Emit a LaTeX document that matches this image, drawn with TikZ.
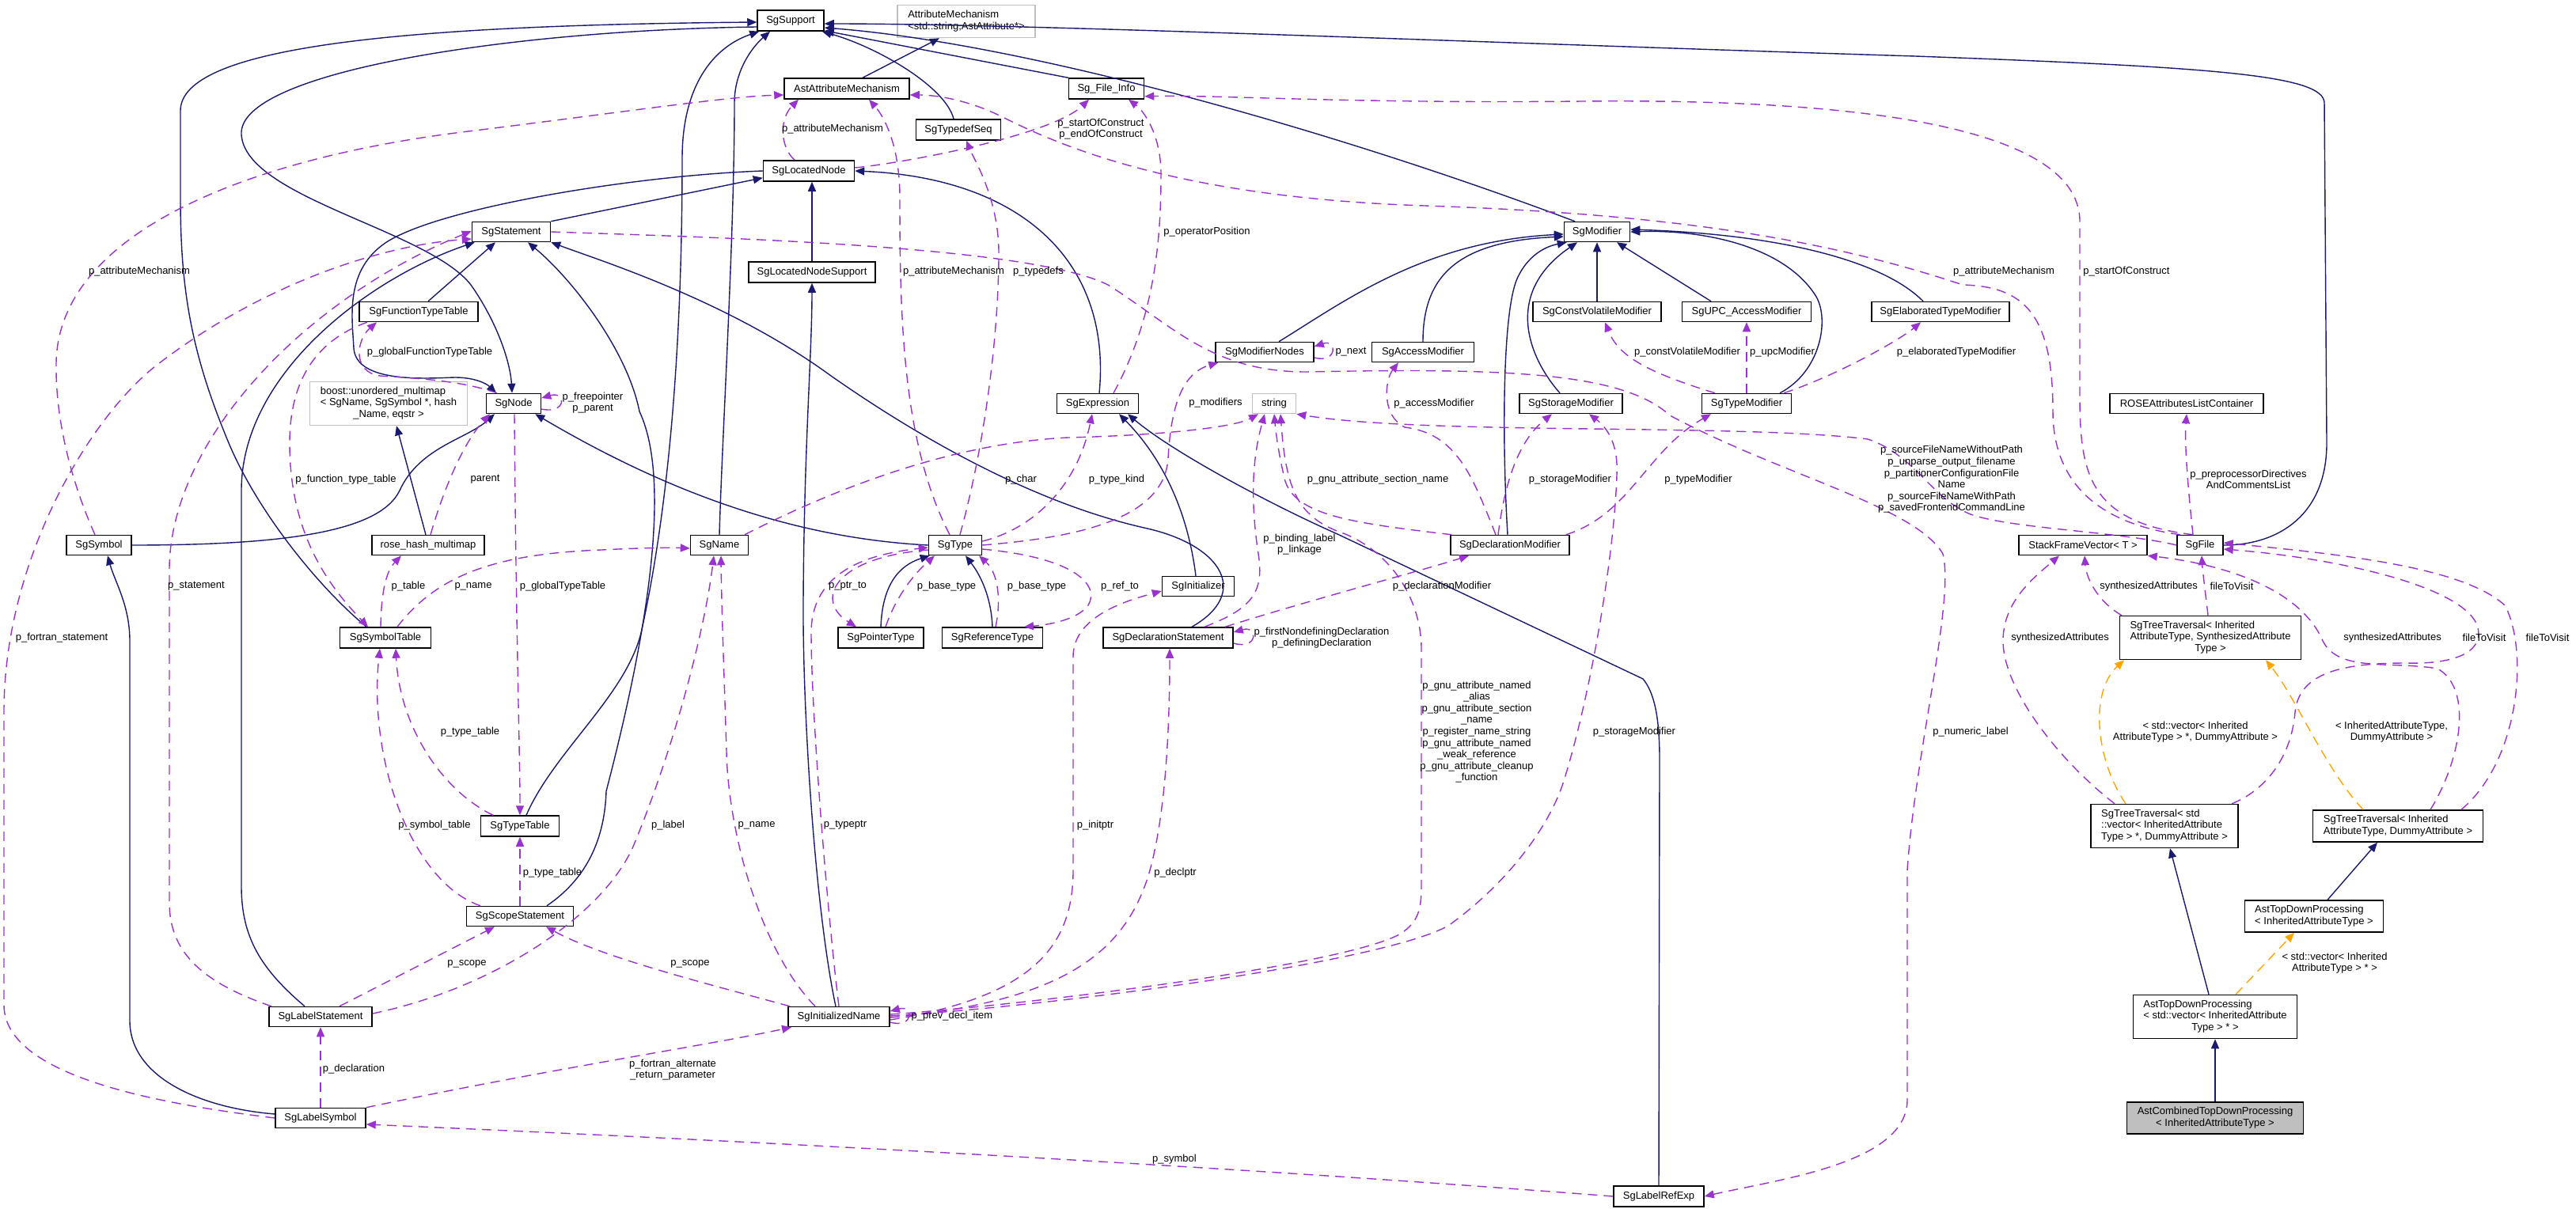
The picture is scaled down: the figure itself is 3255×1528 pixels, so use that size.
\documentclass[tikz,border=0pt]{standalone}
\usepackage{fontspec}
\setmainfont{Liberation Sans}
\usetikzlibrary{arrows.meta}
\definecolor{navyc}{HTML}{191970}
\definecolor{depc}{HTML}{9A32CD}
\definecolor{tmplc}{HTML}{FFA500}
\newcommand\fs{\fontsize{13}{14.6}\selectfont}
\newcommand\ml[2]{\begin{tabular}{@{}l@{}}#1\\\multicolumn{1}{@{}c@{}}{#2}\end{tabular}}
\begin{document}
\begin{tikzpicture}[x=1pt,y=-1pt,
  box/.style={draw=black, line width=1.5pt, fill=white, inner sep=0pt, font=\fs, align=center},
  gbox/.style={box, draw=black!25},
  inh/.style={draw=navyc, line width=1.4pt, -{Triangle[length=12pt,width=10pt]}},
  dep/.style={draw=depc, line width=1.4pt, dash pattern=on 12pt off 8pt, -{Triangle[length=12pt,width=10pt]}},
  tpl/.style={dep, draw=tmplc},
  lbl/.style={font=\fs, align=center, inner sep=0pt}]
\useasboundingbox (0,0) rectangle (3255,1528);
\fill[white] (0,0) rectangle (3255,1528);

% ---------------- nodes
\node[box, minimum width=84, minimum height=26] (support) at (999,26) {SgSupport};
\node[gbox, minimum width=174, minimum height=41] (attrmech) at (1221,27) {\ml{AttributeMechanism}{<std::string,AstAttribute*>}};
\node[box, minimum width=158, minimum height=26] (astattr) at (1070,112) {AstAttributeMechanism};
\node[box, minimum width=95, minimum height=26] (fileinfo) at (1398,112) {Sg\_File\_Info};
\node[box, minimum width=107, minimum height=26] (typedefseq) at (1211,164) {SgTypedefSeq};
\node[box, minimum width=115, minimum height=26] (locnode) at (1022,216) {SgLocatedNode};
\node[box, minimum width=99, minimum height=25] (statement) at (646,293) {SgStatement};
\node[box, minimum width=83, minimum height=25] (modifier) at (2018,293) {SgModifier};
\node[box, minimum width=160, minimum height=26] (locsupport) at (1026,344) {SgLocatedNodeSupport};
\node[box, minimum width=150, minimum height=25] (functypetable) at (529,394) {SgFunctionTypeTable};
\node[box, minimum width=162, minimum height=25] (constvol) at (2018,394) {SgConstVolatileModifier};
\node[box, minimum width=163, minimum height=25] (upc) at (2207,394) {SgUPC\_AccessModifier};
\node[box, minimum width=174, minimum height=25] (elab) at (2452,394) {SgElaboratedTypeModifier};
\node[box, minimum width=124, minimum height=25] (modnodes) at (1598,445) {SgModifierNodes};
\node[box, minimum width=129, minimum height=25] (accessmod) at (1798,445) {SgAccessModifier};
\node[gbox, minimum width=199, minimum height=55] (boost) at (491,510) {\ml{boost::unordered\_multimap\\< SgName, SgSymbol *, hash}{\_Name, eqstr >}};
\node[box, minimum width=69, minimum height=25] (node) at (649,510) {SgNode};
\node[box, minimum width=103, minimum height=25] (expression) at (1387,510) {SgExpression};
\node[gbox, minimum width=55, minimum height=25] (string) at (1610,510) {string};
\node[box, minimum width=130, minimum height=25] (storagemod) at (1985,510) {SgStorageModifier};
\node[box, minimum width=113, minimum height=25] (typemod) at (2207,510) {SgTypeModifier};
\node[box, minimum width=194, minimum height=25] (roseattr) at (2763,510) {ROSEAttributesListContainer};
\node[box, minimum width=82, minimum height=25] (symbol) at (125,689) {SgSymbol};
\node[box, minimum width=142, minimum height=25] (hashmap) at (541,689) {rose\_hash\_multimap};
\node[box, minimum width=73, minimum height=25] (name) at (909,689) {SgName};
\node[box, minimum width=67, minimum height=25] (type) at (1207,689) {SgType};
\node[box, minimum width=150, minimum height=25] (declmod) at (1908,689) {SgDeclarationModifier};
\node[box, minimum width=162, minimum height=25] (stackframe) at (2632,689) {StackFrameVector< T >};
\node[box, minimum width=58, minimum height=25] (file) at (2780,689) {SgFile};
\node[box, minimum width=91, minimum height=25] (initializer) at (1514,741) {SgInitializer};
\node[box, minimum width=115, minimum height=26] (symboltable) at (487,806) {SgSymbolTable};
\node[box, minimum width=108, minimum height=26] (pointertype) at (1113,806) {SgPointerType};
\node[box, minimum width=127, minimum height=26] (reftype) at (1254,806) {SgReferenceType};
\node[box, minimum width=164, minimum height=26] (declstmt) at (1476,806) {SgDeclarationStatement};
\node[box, minimum width=229, minimum height=55] (treetravSAT) at (2793,806) {\ml{SgTreeTraversal< Inherited\\AttributeType, SynthesizedAttribute}{Type >}};
\node[box, minimum width=99, minimum height=26] (typetable) at (657,1044) {SgTypeTable};
\node[box, minimum width=186, minimum height=55] (treetravVec) at (2735,1044) {\ml{SgTreeTraversal< std\\::vector< InheritedAttribute}{Type > *, DummyAttribute >}};
\node[box, minimum width=215, minimum height=40] (treetravDummy) at (3030,1044) {\ml{SgTreeTraversal< Inherited}{AttributeType, DummyAttribute >}};
\node[box, minimum width=135, minimum height=25] (scopestmt) at (657,1158) {SgScopeStatement};
\node[box, minimum width=175, minimum height=40] (topdownIAT) at (2924,1158) {\ml{AstTopDownProcessing}{< InheritedAttributeType >}};
\node[box, minimum width=130, minimum height=25] (labelstmt) at (405,1285) {SgLabelStatement};
\node[box, minimum width=128, minimum height=25] (initname) at (1060,1285) {SgInitializedName};
\node[box, minimum width=207, minimum height=55] (topdownVec) at (2799,1285) {\ml{AstTopDownProcessing\\< std::vector< InheritedAttribute}{Type > * >}};
\node[box, minimum width=114, minimum height=25] (labelsymbol) at (405,1413) {SgLabelSymbol};
\node[box, fill=black!25, minimum width=223, minimum height=40] (combined) at (2799,1413) {\ml{AstCombinedTopDownProcessing}{< InheritedAttributeType >}};
\node[box, minimum width=114, minimum height=26] (labelrefexp) at (2096,1512) {SgLabelRefExp};

% ---------------- inheritance (blue)
\draw[inh] ([xshift=20]astattr.north) -- ([xshift=-34]attrmech.south);
\draw[inh] ([xshift=-6]typedefseq.north) .. controls (1195,110) and (1110,60) .. ([xshift=-3]support.south east);
\draw[inh] (fileinfo.north west) -- ([yshift=1]support.south east);
\draw[inh] ([xshift=-28]modifier.north) .. controls (1700,170) and (1300,55) .. ([yshift=-9]support.east);
\draw[inh] (file.east) .. controls (2880,689) and (2940,650) .. (2940,560) -- (2937,130) .. controls (2936,95) and (2800,85) .. (2420,71) .. controls (1900,55) and (1300,30) .. ([yshift=-4]support.east);
\draw[inh] ([xshift=-24]symboltable.north) .. controls (400,740) and (320,640) .. (285,550) .. controls (240,440) and (228,360) .. (228,250) -- (228,140) .. controls (228,60) and (500,32) .. ([yshift=-2]support.west);
\draw[inh] ([yshift=-8]support.west) .. controls (650,38) and (300,90) .. (305,170) .. controls (310,250) and (540,290) .. (595,360) .. controls (630,410) and (645,460) .. ([xshift=-2]node.north);
\draw[inh] (name.north) .. controls (912,560) and (928,300) .. (928,130) .. controls (928,90) and (950,60) .. ([xshift=-26]support.south);
\draw[inh] ([xshift=8]typetable.north) .. controls (700,950) and (790,880) .. (810,800) .. controls (850,620) and (862,400) .. (862,200) .. controls (862,110) and (900,60) .. ([xshift=3]support.south west);
\draw[inh] (locnode.west) .. controls (800,222) and (560,262) .. (490,305) .. controls (435,340) and (445,400) .. (447,440) .. controls (450,485) and (540,478) .. (575,477) .. controls (600,477) and (615,485) .. ([xshift=-22]node.north);
\draw[inh] (statement.north east) -- ([yshift=5]locnode.south west);
\draw[inh] (locsupport.north) -- ([xshift=4]locnode.south);
\draw[inh] ([xshift=-4]initname.north) .. controls (1030,1150) and (1014,900) .. (1015,760) .. controls (1016,560) and (1026,450) .. (locsupport.south);
\draw[inh] ([xshift=2]expression.north) .. controls (1405,330) and (1290,225) .. (locnode.east);
\draw[inh] ([xshift=-20]labelstmt.north) .. controls (330,1225) and (305,1185) .. (305,1120) -- (305,620) .. controls (305,470) and (470,350) .. ([xshift=4]statement.south west);
\draw[inh] ([xshift=12]functypetable.north) -- ([xshift=-20]statement.south);
\draw[inh] ([xshift=34]scopestmt.north) .. controls (742,1110) and (764,1060) .. (766,1000) .. controls (805,850) and (855,620) .. (808,520) .. controls (792,440) and (720,350) .. ([xshift=21]statement.south);
\draw[inh] ([xshift=30]declstmt.north) .. controls (1580,750) and (1545,690) .. (1450,668) .. controls (1300,635) and (1150,545) .. (1050,475) .. controls (920,380) and (760,330) .. (statement.south east);
\draw[inh] (labelrefexp.north) -- (2097,960) .. controls (2097,905) and (2090,875) .. (2076,858) -- (1690,675) .. controls (1600,635) and (1480,570) .. ([xshift=38]expression.south);
\draw[inh] ([xshift=-3]initializer.north) .. controls (1500,640) and (1465,575) .. ([xshift=27]expression.south);
\draw[inh] (type.west) .. controls (1000,680) and (840,620) .. ([xshift=-8]node.south east);
\draw[inh] (symbol.east) .. controls (360,689) and (480,672) .. (505,620) .. controls (530,565) and (590,555) .. ([xshift=-24]node.south);
\draw[inh] ([xshift=-3]hashmap.north) -- ([xshift=10]boost.south);
\draw[inh] ([yshift=5]labelsymbol.west) .. controls (250,1400) and (164,1360) .. (164,1290) -- (164,810) .. controls (164,765) and (145,735) .. ([xshift=11]symbol.south);
\draw[inh] (pointertype.north) .. controls (1115,740) and (1135,715) .. ([xshift=2]type.south west);
\draw[inh] (reftype.north) .. controls (1252,745) and (1232,718) .. ([xshift=13]type.south);
\draw[inh] ([xshift=18]modnodes.north) .. controls (1700,380) and (1800,305) .. ([yshift=-3]modifier.west);
\draw[inh] (accessmod.north) .. controls (1798,350) and (1840,305) .. ([yshift=-6]modifier.west);
\draw[inh] ([xshift=-3]declmod.north) .. controls (1898,560) and (1898,390) .. (1918,350) .. controls (1930,325) and (1950,312) .. ([xshift=4]modifier.south west);
\draw[inh] ([xshift=-14]storagemod.north) .. controls (1930,450) and (1900,370) .. ([xshift=-25]modifier.south);
\draw[inh] (constvol.north) -- (modifier.south);
\draw[inh] ([xshift=-45]upc.north) -- ([xshift=25]modifier.south);
\draw[inh] ([xshift=42]typemod.north) .. controls (2300,470) and (2312,405) .. (2295,375) .. controls (2255,310) and (2150,290) .. (modifier.east);
\draw[inh] ([xshift=-22]elab.north) .. controls (2380,330) and (2250,296) .. ([yshift=3]modifier.east);
\draw[inh] ([xshift=17]topdownIAT.north) -- ([xshift=-26]treetravDummy.south);
\draw[inh] ([xshift=-8]topdownVec.north) -- ([xshift=7]treetravVec.south);
\draw[inh] (combined.north) -- (topdownVec.south);

% ---------------- template instances (orange)
\draw[tpl] ([xshift=26]topdownVec.north) -- ([xshift=-25]topdownIAT.south);
\draw[tpl] ([xshift=-49]treetravVec.north) .. controls (2648,960) and (2640,875) .. ([xshift=-109]treetravSAT.south);
\draw[tpl] ([xshift=-44]treetravDummy.north) .. controls (2940,975) and (2900,880) .. ([xshift=70]treetravSAT.south);

% ---------------- usage (purple dashed)
\draw[dep] ([xshift=-5]symbol.north) .. controls (95,620) and (70,540) .. (71,460) .. controls (72,300) and (300,200) .. (600,165) .. controls (800,140) and (920,122) .. ([yshift=-8]astattr.west);
\draw[dep] (labelsymbol.west) .. controls (200,1395) and (5,1360) .. (5,1270) -- (5,900) .. controls (5,700) and (120,520) .. (200,460) .. controls (330,360) and (480,310) .. ([yshift=-9]statement.west);
\draw[dep] ([xshift=-62]labelstmt.north) .. controls (250,1240) and (214,1200) .. (214,1140) -- (214,720) .. controls (214,560) and (380,380) .. ([yshift=1]statement.west);
\draw[dep] ([xshift=-7]type.north) .. controls (1140,560) and (1137,400) .. (1137,250) .. controls (1137,180) and (1115,145) .. ([xshift=28]astattr.south);
\draw[dep] ([xshift=-18]locnode.north) .. controls (985,185) and (985,150) .. ([xshift=-61]astattr.south);
\draw[dep] ([yshift=4]locnode.east) .. controls (1150,205) and (1330,170) .. ([xshift=-22]fileinfo.south);
\draw[dep] ([xshift=20]expression.north) .. controls (1460,400) and (1467,300) .. (1467,220) .. controls (1467,170) and (1445,140) .. ([xshift=28]fileinfo.south);
\draw[dep] ([xshift=-9]file.north) .. controls (2640,660) and (2628,600) .. (2628,500) -- (2628,280) .. controls (2628,150) and (2300,125) .. (2000,128) .. controls (1700,131) and (1550,120) .. ([yshift=4]fileinfo.south east);
\draw[dep] ([xshift=-25]file.north) .. controls (2640,660) and (2594,600) .. (2594,520) .. controls (2594,400) and (2560,362) .. (2480,360) .. controls (2300,300) and (2100,270) .. (1800,260) .. controls (1500,250) and (1350,190) .. (1265,147) .. controls (1220,125) and (1180,120) .. ([yshift=-8]astattr.east);
\draw[dep] ([xshift=6]type.north) .. controls (1245,560) and (1262,420) .. (1262,320) .. controls (1262,250) and (1230,200) .. ([xshift=10]typedefseq.south);
\draw[dep] ([yshift=5]type.east) .. controls (1300,670) and (1360,620) .. ([xshift=-7]expression.south);
\draw[dep] (type.east) .. controls (1350,680) and (1470,660) .. (1476,580) .. controls (1480,500) and (1500,470) .. ([xshift=4]modnodes.south west);
\draw[dep] ([yshift=-6]type.west) .. controls (1050,705) and (1030,760) .. ([xshift=-31]pointertype.north);
\draw[dep] ([xshift=6]pointertype.north) .. controls (1130,760) and (1150,730) .. ([xshift=-26]type.south);
\draw[dep] ([xshift=4]reftype.north) .. controls (1265,760) and (1262,725) .. ([xshift=30]type.south);
\draw[dep] ([yshift=-5]type.east) .. controls (1360,705) and (1390,740) .. (1375,765) .. controls (1360,785) and (1320,790) .. ([xshift=40]reftype.north);
\draw[dep] ([xshift=32]name.north) .. controls (1050,620) and (1200,560) .. (1350,553) .. controls (1470,550) and (1560,540) .. ([xshift=-20]string.south);
\draw[dep] ([xshift=46]declstmt.north) .. controls (1580,770) and (1598,750) .. (1590,700) .. controls (1578,620) and (1585,570) .. ([xshift=-12]string.south);
\draw[dep] ([xshift=2]declmod.north west) .. controls (1700,660) and (1630,650) .. (1622,600) .. controls (1615,570) and (1612,545) .. (string.south);
\draw[dep] ([yshift=3]initname.east) .. controls (1300,1270) and (1700,1220) .. (1770,1180) .. controls (1792,1165) and (1796,1150) .. (1796,1120) -- (1796,820) .. controls (1796,760) and (1760,700) .. (1700,675) .. controls (1640,655) and (1625,620) .. ([xshift=8]string.south);
\draw[dep] ([yshift=1]initname.east) .. controls (1350,1270) and (1750,1215) .. (1830,1170) .. controls (1900,1120) and (1955,1050) .. (1975,990) .. controls (2010,880) and (2040,700) .. (2043,600) .. controls (2045,560) and (2030,540) .. ([xshift=23]storagemod.south);
\draw[dep] ([xshift=-15]declmod.north) .. controls (1900,620) and (1915,560) .. ([xshift=-24]storagemod.south);
\draw[dep] ([xshift=-5]declmod.north east) .. controls (2060,650) and (2080,570) .. ([xshift=-45]typemod.south);
\draw[dep] ([xshift=-18]declmod.north) .. controls (1860,600) and (1840,548) .. (1775,540) .. controls (1745,525) and (1750,480) .. ([xshift=-31]accessmod.south);
\draw[dep] ([xshift=72]declstmt.north) .. controls (1650,760) and (1800,720) .. ([xshift=-52]declmod.south);
\draw[dep] ([xshift=-40]typemod.north) .. controls (2080,470) and (2045,450) .. ([xshift=10]constvol.south);
\draw[dep] (typemod.north) -- (upc.south);
\draw[dep] ([xshift=47]typemod.north) .. controls (2320,475) and (2400,430) .. ([xshift=-25]elab.south);
\draw[dep] ([yshift=-7]modnodes.east) .. controls (1690,460) and (1690,428) .. ([yshift=7]modnodes.east);
\draw[dep] ([yshift=-7]node.east) .. controls (716,524) and (716,494) .. ([yshift=7]node.east);
\draw[dep] ([yshift=-7]declstmt.east) .. controls (1590,822) and (1590,790) .. ([yshift=7]declstmt.east);
\draw[dep] ([yshift=-7]initname.east) .. controls (1155,1300) and (1155,1270) .. ([yshift=7]initname.east);
\draw[dep] ([xshift=-21]node.north) .. controls (580,480) and (520,478) .. (480,475) .. controls (445,470) and (450,430) .. ([xshift=-53]functypetable.south);
\draw[dep] ([xshift=-65]functypetable.south) .. controls (400,430) and (366,480) .. (366,560) .. controls (366,680) and (420,745) .. ([xshift=-22]symboltable.north);
\draw[dep] ([xshift=3]hashmap.north) .. controls (560,620) and (585,560) .. ([xshift=-30]node.south);
\draw[dep] ([xshift=-6]symboltable.north) .. controls (482,740) and (490,720) .. ([xshift=-34]hashmap.south);
\draw[dep] ([xshift=15]symboltable.north) .. controls (550,730) and (620,700) .. (760,695) .. controls (820,692) and (850,692) .. ([yshift=-4]name.west);
\draw[dep] ([xshift=1]node.south) .. controls (652,800) and (657,950) .. (typetable.north);
\draw[dep] ([xshift=-34]typetable.north) .. controls (560,1000) and (505,920) .. ([xshift=13]symboltable.south);
\draw[dep] ([xshift=-50]scopestmt.north) .. controls (520,1115) and (465,960) .. ([xshift=-7]symboltable.south);
\draw[dep] (scopestmt.north) -- (typetable.south);
\draw[dep] ([xshift=24]labelstmt.north) -- ([xshift=-32]scopestmt.south);
\draw[dep] ([xshift=-62]initname.north) .. controls (900,1245) and (760,1210) .. ([xshift=33]scopestmt.south);
\draw[dep] ([yshift=4]labelstmt.east) .. controls (620,1250) and (760,1160) .. (800,1070) .. controls (850,950) and (890,800) .. ([xshift=-7]name.south);
\draw[dep] ([xshift=-30]initname.north) .. controls (960,1200) and (920,1050) .. (918,950) .. controls (915,850) and (912,780) .. ([xshift=2]name.south);
\draw[dep] (initname.north) .. controls (1045,1150) and (1025,900) .. (1025,800) .. controls (1025,720) and (1100,700) .. ([yshift=-3]type.west);
\draw[dep] ([yshift=-4]initname.east) .. controls (1300,1260) and (1356,1200) .. (1356,1100) -- (1356,830) .. controls (1356,780) and (1420,760) .. ([yshift=-6]initializer.west);
\draw[dep] ([yshift=-1]initname.east) .. controls (1350,1265) and (1420,1200) .. (1450,1110) .. controls (1475,1030) and (1478,900) .. ([xshift=2]declstmt.south);
\draw[dep] (labelsymbol.north east) .. controls (700,1350) and (900,1320) .. ([xshift=-60]initname.south);
\draw[dep] (labelsymbol.north) -- (labelstmt.south);
\draw[dep] (labelrefexp.west) .. controls (1500,1470) and (900,1440) .. ([yshift=-8]labelsymbol.east);
\draw[dep] (statement.east) .. controls (900,300) and (1300,310) .. (1400,360) .. controls (1480,410) and (1530,470) .. (1650,470) .. controls (1900,465) and (2050,470) .. (2110,525) .. controls (2250,600) and (2420,640) .. (2455,700) .. controls (2470,760) and (2420,950) .. (2410,1100) -- (2410,1390) .. controls (2410,1470) and (2250,1490) .. (labelrefexp.east);
\draw[dep] (file.west) .. controls (2680,672) and (2540,668) .. (2490,650) .. controls (2440,630) and (2420,575) .. (2360,555) .. controls (2200,535) and (1800,550) .. (string.south east);
\draw[dep] ([xshift=-9]file.north) .. controls (2765,620) and (2760,560) .. (roseattr.south);
\draw[dep] ([xshift=-3]treetravSAT.north) .. controls (2788,760) and (2783,720) .. ([xshift=2]file.south);
\draw[dep] ([xshift=-112]treetravSAT.north) .. controls (2650,760) and (2636,730) .. ([xshift=2]stackframe.south);
\draw[dep] ([xshift=-63]treetravVec.north) .. controls (2600,960) and (2531,870) .. (2531,810) .. controls (2531,760) and (2570,730) .. ([xshift=-30]stackframe.south);
\draw[dep] ([xshift=41]treetravDummy.north) .. controls (3110,960) and (3125,870) .. (3080,845) .. controls (3020,835) and (2955,850) .. (2935,810) .. controls (2905,740) and (2800,712) .. (stackframe.south east);
\draw[dep] ([xshift=85]treetravVec.north) .. controls (2860,1000) and (2895,960) .. (2900,900) .. controls (2905,850) and (2960,838) .. (3040,838) .. controls (3110,840) and (3140,820) .. (3130,790) .. controls (3110,740) and (2950,705) .. ([yshift=-5]file.east);
\draw[dep] ([xshift=80]treetravDummy.north) .. controls (3185,960) and (3195,820) .. (3165,765) .. controls (3110,715) and (2950,700) .. ([yshift=3]file.east);

% ---------------- labels
\node[lbl] (l1) at (176,343) {p\_attributeMechanism};
\node[lbl] (l2) at (543,445) {p\_globalFunctionTypeTable};
\node[lbl] (l3) at (749,509) {p\_freepointer\\p\_parent};
\node[lbl] (l4) at (1052,163) {p\_attributeMechanism};
\node[lbl] (l5) at (1391,163) {p\_startOfConstruct\\p\_endOfConstruct};
\node[lbl] (l6) at (1525,293) {p\_operatorPosition};
\node[lbl] (l7) at (1205,343) {p\_attributeMechanism};
\node[lbl] (l8) at (1312,343) {p\_typedefs};
\node[lbl] (l9) at (1536,509) {p\_modifiers};
\node[lbl] (l10) at (1707,445) {p\_next};
\node[lbl] (l11) at (2132,445) {p\_constVolatileModifier};
\node[lbl] (l12) at (2252,445) {p\_upcModifier};
\node[lbl] (l13) at (1812,510) {p\_accessModifier};
\node[lbl] (l14) at (2472,445) {p\_elaboratedTypeModifier};
\node[lbl] (l15) at (2532,343) {p\_attributeMechanism};
\node[lbl] (l16) at (2687,343) {p\_startOfConstruct};
\node[lbl] (l17) at (437,606) {p\_function\_type\_table};
\node[lbl] (l18) at (613,606) {parent};
\node[lbl] (l19) at (248,741) {p\_statement};
\node[lbl] (l20) at (516,741) {p\_table};
\node[lbl] (l21) at (598,741) {p\_name};
\node[lbl] (l22) at (711,741) {p\_globalTypeTable};
\node[lbl] (l23) at (78,806) {p\_fortran\_statement};
\node[lbl] (l24) at (594,925) {p\_type\_table};
\node[lbl] (l25) at (549,1043) {p\_symbol\_table};
\node[lbl] (l26) at (698,1103) {p\_type\_table};
\node[lbl] (l27) at (590,1218) {p\_scope};
\node[lbl] (l28) at (447,1351) {p\_declaration};
\node[lbl] (l29) at (1290,606) {p\_char};
\node[lbl] (l30) at (1411,606) {p\_type\_kind};
\node[lbl] (l31) at (1071,741) {p\_ptr\_to};
\node[lbl] (l32) at (1196,741) {p\_base\_type};
\node[lbl] (l33) at (1310,741) {p\_base\_type};
\node[lbl] (l34) at (1415,741) {p\_ref\_to};
\node[lbl] (l35) at (1642,688) {p\_binding\_label\\p\_linkage};
\node[lbl] (l36) at (1670,806) {p\_firstNondefiningDeclaration\\p\_definingDeclaration};
\node[lbl] (l37) at (1741,606) {p\_gnu\_attribute\_section\_name};
\node[lbl] (l38) at (1984,606) {p\_storageModifier};
\node[lbl] (l39) at (2146,606) {p\_typeModifier};
\node[lbl] (l40) at (1822,741) {p\_declarationModifier};
\node[lbl] (l41) at (1866,925) {p\_gnu\_attribute\_named\\\_alias\\p\_gnu\_attribute\_section\\\_name\\p\_register\_name\_string\\p\_gnu\_attribute\_named\\\_weak\_reference\\p\_gnu\_attribute\_cleanup\\\_function};
\node[lbl] (l42) at (2065,925) {p\_storageModifier};
\node[lbl] (l43) at (2466,606) {p\_sourceFileNameWithoutPath\\p\_unparse\_output\_filename\\p\_partitionerConfigurationFile\\Name\\p\_sourceFileNameWithPath\\p\_savedFrontendCommandLine};
\node[lbl] (l44) at (2841,606) {p\_preprocessorDirectives\\AndCommentsList};
\node[lbl] (l45) at (2715,741) {synthesizedAttributes};
\node[lbl] (l46) at (2820,741) {fileToVisit};
\node[lbl] (l47) at (2603,806) {synthesizedAttributes};
\node[lbl] (l48) at (3023,806) {synthesizedAttributes};
\node[lbl] (l49) at (3139,806) {fileToVisit};
\node[lbl] (l50) at (3219,806) {fileToVisit};
\node[lbl] (l51) at (2774,925) {< std::vector< Inherited\\AttributeType > *, DummyAttribute >};
\node[lbl] (l52) at (3022,925) {< InheritedAttributeType,\\DummyAttribute >};
\node[lbl] (l53) at (2490,925) {p\_numeric\_label};
\node[lbl] (l54) at (2950,1217) {< std::vector< Inherited\\AttributeType > * >};
\node[lbl] (l55) at (844,1043) {p\_label};
\node[lbl] (l56) at (956,1043) {p\_name};
\node[lbl] (l57) at (1068,1043) {p\_typeptr};
\node[lbl] (l58) at (1384,1043) {p\_initptr};
\node[lbl] (l59) at (1485,1103) {p\_declptr};
\node[lbl] (l60) at (872,1218) {p\_scope};
\node[lbl] (l61) at (1203,1284) {p\_prev\_decl\_item};
\node[lbl] (l62) at (850,1352) {p\_fortran\_alternate\\\_return\_parameter};
\node[lbl] (l63) at (1484,1465) {p\_symbol};
\end{tikzpicture}
\end{document}
